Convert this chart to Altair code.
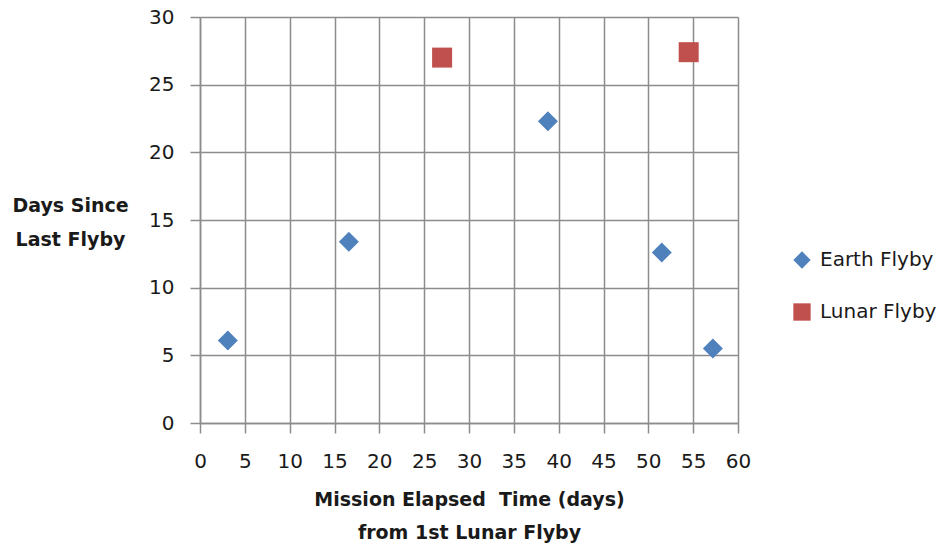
import altair as alt
import pandas as pd

series = ["Earth Flyby"] * 5 + ["Lunar Flyby"] * 2
elapsed = [3.1, 16.6, 38.8, 51.5, 57.2, 27.0, 54.5]
since_last = [6.1, 13.4, 22.3, 12.6, 5.5, 27.0, 27.4]

x_ticks = list(range(0, 61, 5))
y_ticks = list(range(0, 31, 5))

df = pd.DataFrame({"series": series, "elapsed": elapsed, "since": since_last})

FONT = "DejaVu Sans"
GRID = "#8c8c8c"
TXT = "#1a1a1a"

legend_cfg = dict(
    title=None,
    orient="none",
    legendX=592,
    legendY=233,
    labelFont=FONT,
    labelFontSize=20,
    labelColor=TXT,
    symbolSize=300,
    symbolOpacity=1,
    rowPadding=28,
    labelOffset=8,
)

chart = (
    alt.Chart(df)
    .mark_point(filled=True, opacity=1, size=400)
    .encode(
        x=alt.X(
            "elapsed:Q",
            scale=alt.Scale(domain=[0, 60], nice=False, zero=False),
            axis=alt.Axis(
                values=x_ticks,
                title=["Mission Elapsed\u00a0 Time (days)", "from 1st Lunar Flyby"],
                titleFont=FONT,
                titleFontSize=19,
                titleFontWeight="bold",
                titleColor=TXT,
                titleLineHeight=33,
                titlePadding=19,
                labelFont=FONT,
                labelFontSize=20,
                labelColor=TXT,
                labelPadding=18,
                labelFlush=False,
                tickSize=10,
                tickColor=GRID,
                tickWidth=1.5,
                domainColor=GRID,
                domainWidth=1.5,
                gridColor=GRID,
                gridWidth=1.5,
                gridOpacity=1,
            ),
        ),
        y=alt.Y(
            "since:Q",
            scale=alt.Scale(domain=[0, 30], nice=False, zero=False),
            axis=alt.Axis(
                values=y_ticks,
                title=["Days Since", "Last Flyby"],
                titleFont=FONT,
                titleFontSize=19,
                titleFontWeight="bold",
                titleColor=TXT,
                titleAngle=0,
                titleAlign="center",
                titleBaseline="middle",
                titleLineHeight=34,
                titleX=-130,
                titleY=188,
                labelFont=FONT,
                labelFontSize=20,
                labelColor=TXT,
                labelPadding=16,
                labelFlush=False,
                tickSize=10,
                tickColor=GRID,
                tickWidth=1.5,
                domainColor=GRID,
                domainWidth=1.5,
                gridColor=GRID,
                gridWidth=1.5,
                gridOpacity=1,
            ),
        ),
        color=alt.Color(
            "series:N",
            scale=alt.Scale(domain=["Earth Flyby", "Lunar Flyby"], range=["#4F81BD", "#C0504D"]),
            legend=alt.Legend(**legend_cfg),
        ),
        shape=alt.Shape(
            "series:N",
            scale=alt.Scale(domain=["Earth Flyby", "Lunar Flyby"], range=["diamond", "square"]),
            legend=alt.Legend(**legend_cfg),
        ),
    )
    .properties(
        width=538,
        height=406,
        padding={"left": 192, "top": 9, "right": 202, "bottom": 120},
        autosize=alt.AutoSizeParams(type="none"),
        background="white",
    )
    .configure_view(stroke=None)
)

chart.save("out.html", embed_options={"renderer": "svg", "actions": False})
